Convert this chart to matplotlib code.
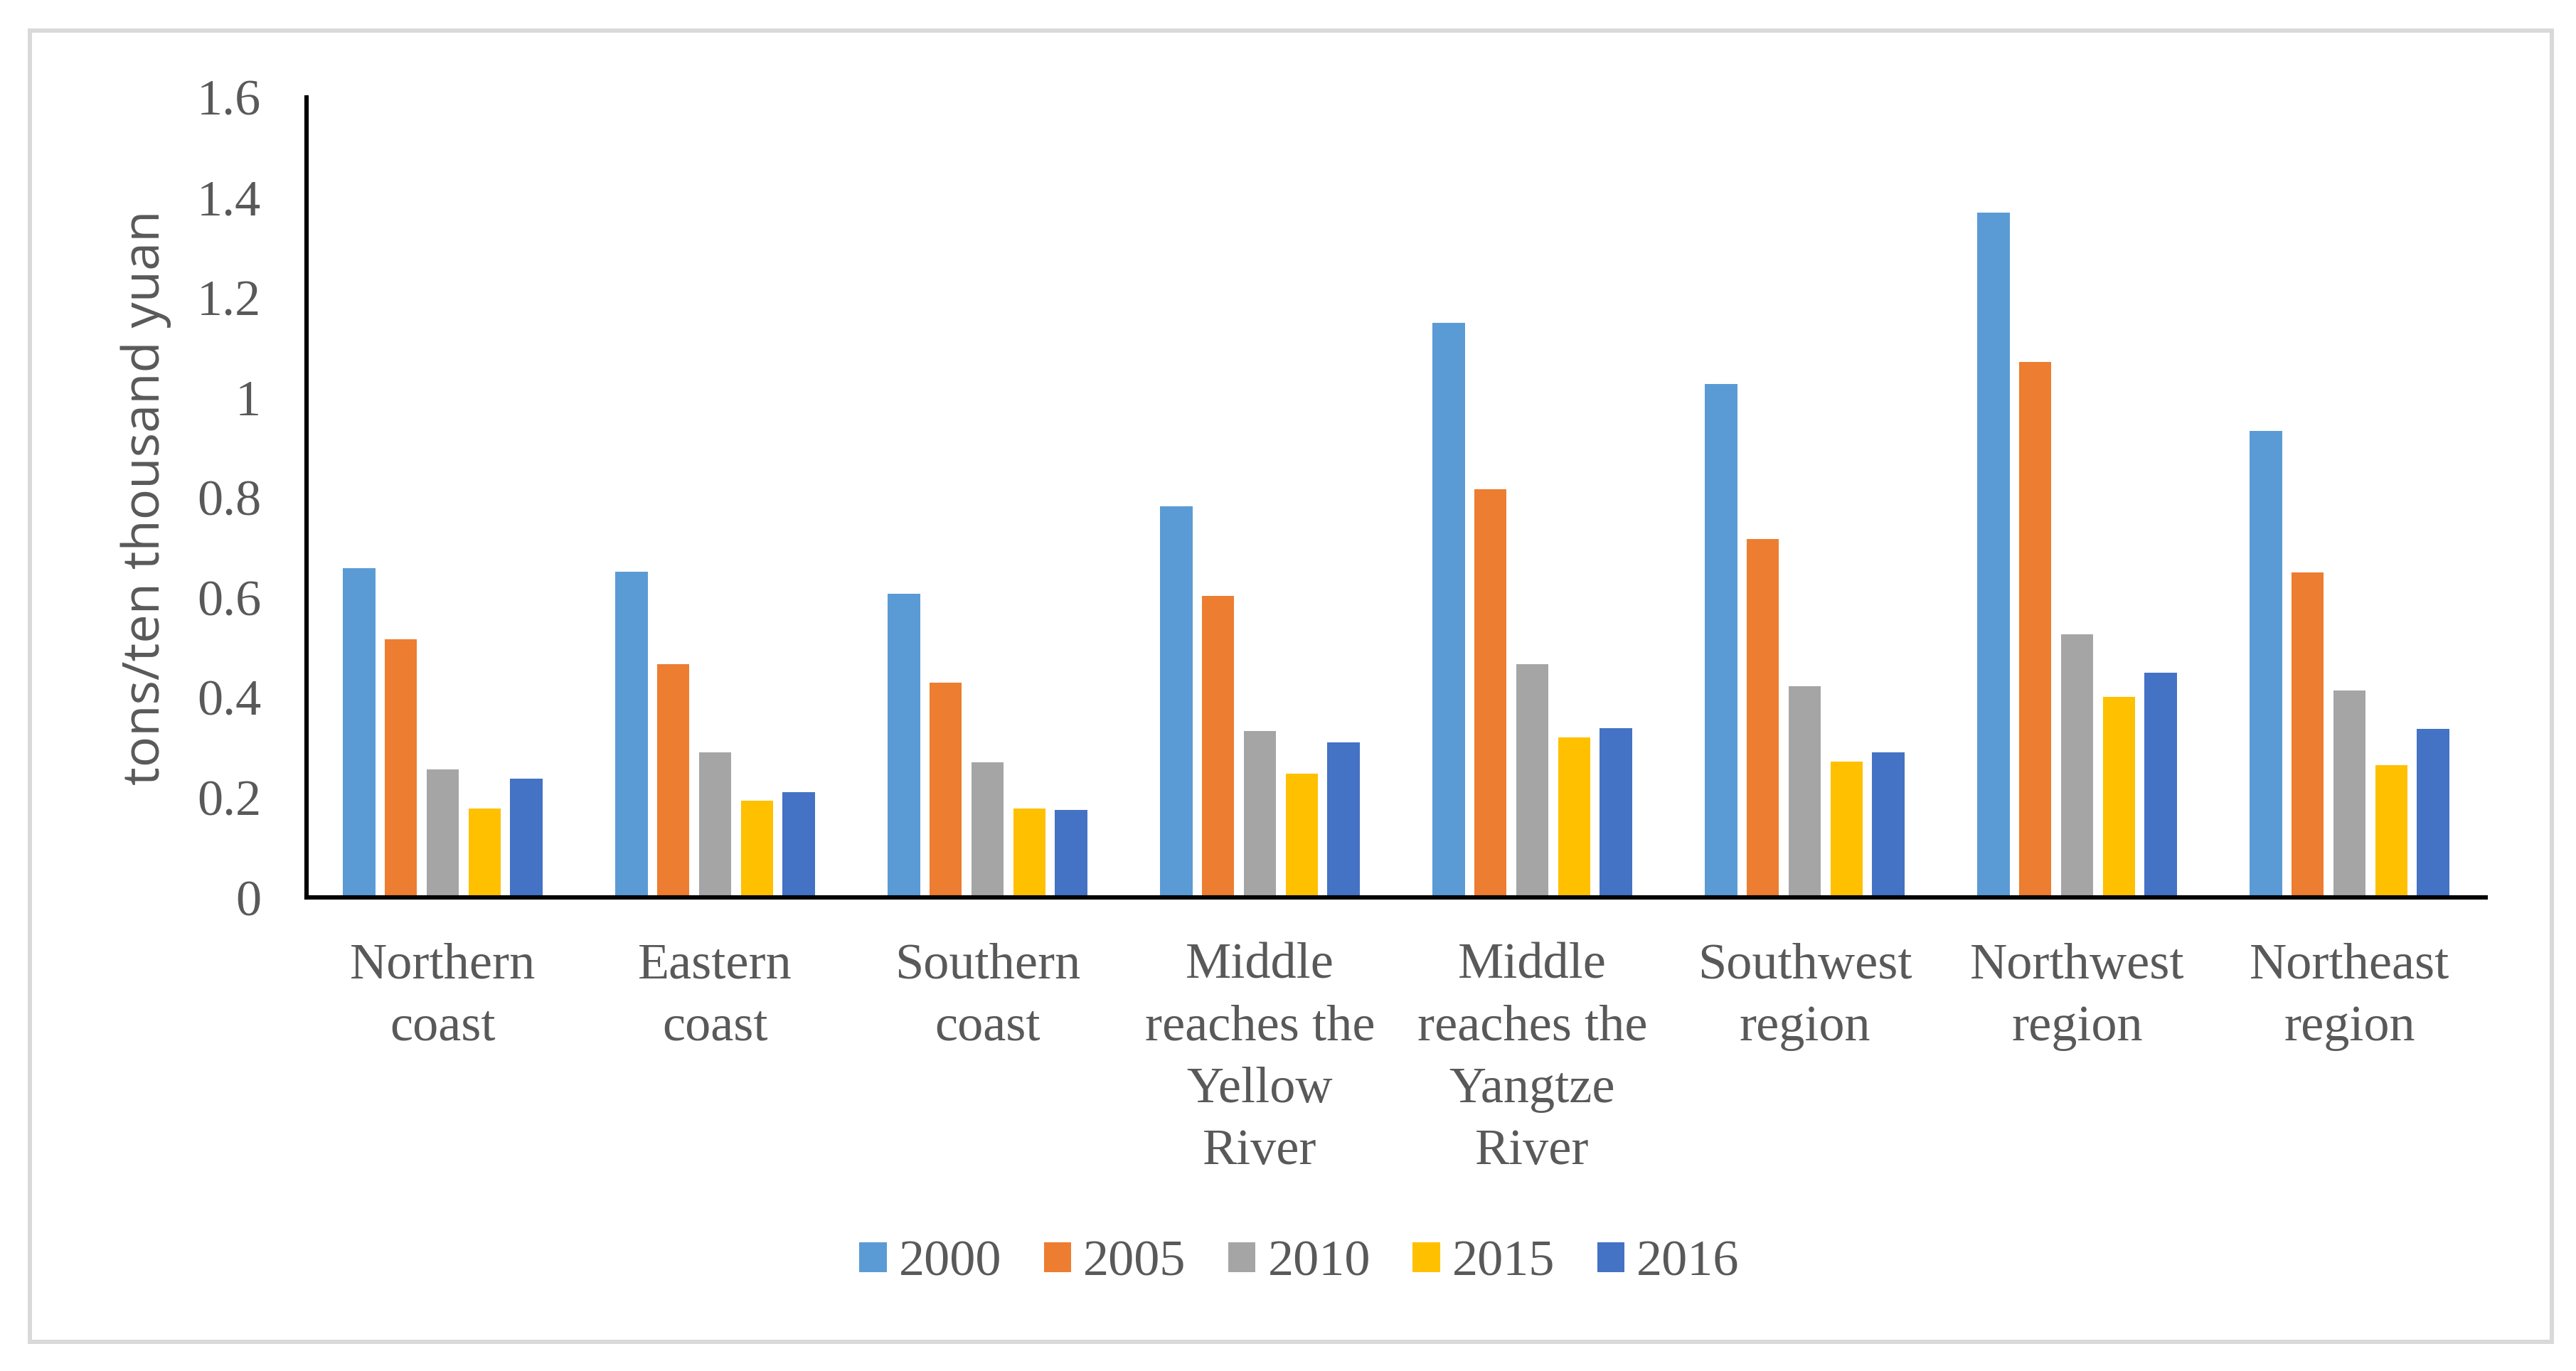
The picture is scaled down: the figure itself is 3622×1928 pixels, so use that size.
import numpy as np
import matplotlib.pyplot as plt
from matplotlib.patches import Rectangle
from matplotlib.ticker import FuncFormatter, MultipleLocator

# Data
regions = ['Northern\ncoast', 'Eastern\ncoast', 'Southern\ncoast',
           'Middle\nreaches the\nYellow\nRiver', 'Middle\nreaches the\nYangtze\nRiver',
           'Southwest\nregion', 'Northwest\nregion', 'Northeast\nregion']
years = ['2000', '2005', '2010', '2015', '2016']
v2000 = [0.659, 0.652, 0.608, 0.782, 1.149, 1.027, 1.369, 0.933]
v2005 = [0.516, 0.466, 0.429, 0.603, 0.816, 0.717, 1.071, 0.650]
v2010 = [0.256, 0.290, 0.270, 0.333, 0.466, 0.422, 0.526, 0.414]
v2015 = [0.178, 0.193, 0.178, 0.248, 0.320, 0.271, 0.401, 0.265]
v2016 = [0.237, 0.210, 0.175, 0.310, 0.338, 0.290, 0.449, 0.337]
colors = ['#5B9BD5', '#ED7D31', '#A5A5A5', '#FFC000', '#4472C4']

TXT = '#595959'
SERIF = 'Liberation Serif'
FS = 52

fig = plt.figure(figsize=(36.23, 19.28), dpi=100)
ax = fig.add_axes([431/3623, 1 - 1262/1928, 3064/3623, 1125/1928])

x = np.arange(len(regions))
pitch = 0.154
for i, vals in enumerate([v2000, v2005, v2010, v2015, v2016]):
    ax.bar(x + (i - 2) * pitch, vals, width=0.12, color=colors[i], label=years[i])

ax.set_xlim(-0.5, len(regions) - 0.5)
ax.set_ylim(0, 1.6)
ax.yaxis.set_major_locator(MultipleLocator(0.2))
ax.yaxis.set_major_formatter(FuncFormatter(lambda v, p: f'{v:.1f}'.rstrip('0').rstrip('.') if v else '0'))

for s in ['top', 'right']:
    ax.spines[s].set_visible(False)
for s in ['left', 'bottom']:
    ax.spines[s].set_linewidth(4.4)
    ax.spines[s].set_color('black')

ax.set_xticks(x)
ax.set_xticklabels(regions, fontfamily=SERIF, fontsize=FS, color=TXT, linespacing=1.44)
ax.tick_params(axis='x', length=0, pad=46)
ax.tick_params(axis='y', length=0, pad=46, labelsize=FS, labelcolor=TXT)
for lab in ax.get_yticklabels():
    lab.set_fontfamily(SERIF)

ax.set_ylabel('tons/ten thousand yuan', fontfamily='Open Sans', fontsize=52, color=TXT)
ax.yaxis.set_label_coords(-0.062, 0.5)

leg = fig.legend(loc='center', bbox_to_anchor=(1827/3623, 1 - 1776/1928), ncol=5,
                 frameon=False, handlelength=0.53, handleheight=0.51,
                 handletextpad=0.24, columnspacing=0.82,
                 prop={'family': SERIF, 'size': FS})
for t in leg.get_texts():
    t.set_color(TXT)

# outer chart border
fig.patches.append(Rectangle((42/3623, 41/1928), 3546/3623, 1844/1928,
                             transform=fig.transFigure, fill=False,
                             edgecolor='#D9D9D9', linewidth=4.3))

fig.savefig('out.png', dpi=100, facecolor='white')
